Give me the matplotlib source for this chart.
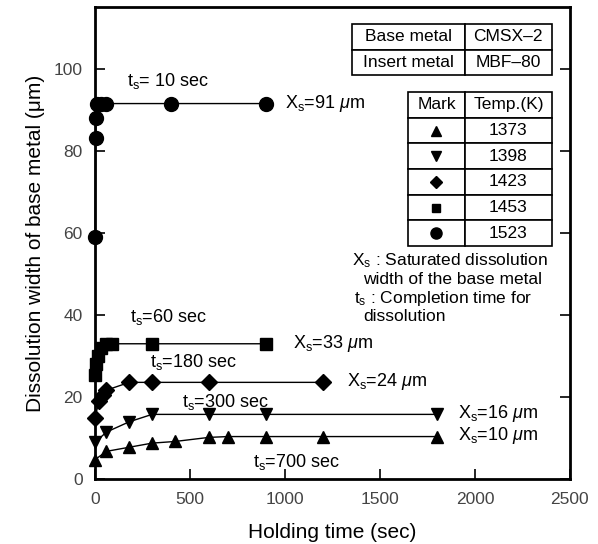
import matplotlib.pyplot as plt

plt.rcParams['font.family'] = ['Liberation Sans', 'DejaVu Sans']
plt.rcParams['mathtext.fontset'] = 'custom'
plt.rcParams['mathtext.rm'] = 'Liberation Sans'
plt.rcParams['mathtext.it'] = 'Liberation Sans:italic'

''' Data '''
t_1373 = [0, 60, 180, 300, 420, 600, 700, 900, 1200, 1800]
x_1373 = [4.8, 6.8, 7.8, 8.8, 9.2, 10.2, 10.4, 10.4, 10.4, 10.4]
t_1398 = [0, 60, 180, 300, 600, 900, 1800]
x_1398 = [9.0, 11.5, 14.0, 15.8, 15.8, 15.8, 15.8]
t_1423 = [0, 20, 40, 60, 180, 300, 600, 1200]
x_1423 = [15.0, 19.0, 20.5, 21.7, 23.6, 23.6, 23.6, 23.6]
t_1453 = [0, 5, 15, 30, 60, 90, 300, 900]
x_1453 = [25.5, 28.0, 30.0, 32.0, 33.0, 33.0, 33.0, 33.0]
t_1523 = [0, 3, 6, 10, 30, 60, 400, 900]
x_1523 = [59.0, 83.0, 88.0, 91.5, 91.5, 91.5, 91.5, 91.5]

temps = ['1373', '1398', '1423', '1453', '1523']
marks = ['^', 'v', 'D', 's', 'o']
sizes = [9, 9, 8, 8, 10]

''' Graphing '''
fig = plt.figure(figsize=(5.98, 5.44), dpi=100)
ax = fig.add_axes([0.159, 0.119, 0.794, 0.868])

series = [(t_1373, x_1373), (t_1398, x_1398), (t_1423, x_1423),
          (t_1453, x_1453), (t_1523, x_1523)]
for (t, x), m, s in zip(series, marks, sizes):
    ax.plot(t, x, color='black', linewidth=1, marker=m, markersize=s,
            markerfacecolor='black', markeredgecolor='black', clip_on=False, zorder=3)

ax.set_xlim(0, 2500)
ax.set_ylim(0, 115)
ax.set_xticks([0, 500, 1000, 1500, 2000, 2500])
ax.set_yticks([0, 20, 40, 60, 80, 100])
ax.tick_params(direction='in', length=7, width=1.2, labelsize=12.5,
               labelcolor='#444444', right=True, pad=9)
for sp in ax.spines.values():
    sp.set_linewidth(2)
ax.set_xlabel('Holding time (sec)', fontsize=15, labelpad=12)
ax.set_ylabel('Dissolution width of base metal (\u03bcm)', fontsize=15, labelpad=6)

# annotations
fs = 13
ax.text(170, 97, r't$_\mathrm{s}$= 10 sec', fontsize=fs, va='center')
ax.text(1000, 91.5, r'X$_\mathrm{s}$=91 $\mu$m', fontsize=fs, va='center')
ax.text(185, 39.5, r't$_\mathrm{s}$=60 sec', fontsize=fs, va='center')
ax.text(1040, 33, r'X$_\mathrm{s}$=33 $\mu$m', fontsize=fs, va='center')
ax.text(290, 28.5, r't$_\mathrm{s}$=180 sec', fontsize=fs, va='center')
ax.text(1325, 23.7, r'X$_\mathrm{s}$=24 $\mu$m', fontsize=fs, va='center')
ax.text(458, 18.8, r't$_\mathrm{s}$=300 sec', fontsize=fs, va='center')
ax.text(1910, 16.1, r'X$_\mathrm{s}$=16 $\mu$m', fontsize=fs, va='center')
ax.text(1910, 10.7, r'X$_\mathrm{s}$=10 $\mu$m', fontsize=fs, va='center')
ax.text(830, 4.1, r't$_\mathrm{s}$=700 sec', fontsize=fs, va='center')

# note block
nfs = 12.5
ax.text(0.542, 0.462, r'X$_\mathrm{s}$ : Saturated dissolution', transform=ax.transAxes, fontsize=nfs, va='center')
ax.text(0.564, 0.422, 'width of the base metal', transform=ax.transAxes, fontsize=nfs, va='center')
ax.text(0.546, 0.383, r't$_\mathrm{s}$ : Completion time for', transform=ax.transAxes, fontsize=nfs, va='center')
ax.text(0.564, 0.345, 'dissolution', transform=ax.transAxes, fontsize=nfs, va='center')

# material table
t1 = ax.table(cellText=[['Base metal', 'CMSX\u20132'], ['Insert metal', 'MBF\u201380']],
              cellLoc='center', bbox=[0.541, 0.856, 0.421, 0.108],
              colWidths=[113, 87])
t1.auto_set_font_size(False)
t1.set_fontsize(12.5)
for c in t1.get_celld().values():
    c.set_linewidth(1.2)

# mark table
rows = [['Mark', 'Temp.(K)']] + [['', tp] for tp in temps]
t2 = ax.table(cellText=rows, cellLoc='center', bbox=[0.659, 0.494, 0.303, 0.326],
              colWidths=[57, 87])
t2.auto_set_font_size(False)
t2.set_fontsize(12.5)
for c in t2.get_celld().values():
    c.set_linewidth(1.2)
row_h = 0.326 / 6
for i, (m, s) in enumerate(zip(marks, sizes)):
    yc = 0.820 - row_h * (i + 1.5)
    ax.plot([0.719], [yc], marker=m, markersize=s - 2, color='black',
            transform=ax.transAxes, clip_on=False)

fig.savefig('out.png', dpi=100)
